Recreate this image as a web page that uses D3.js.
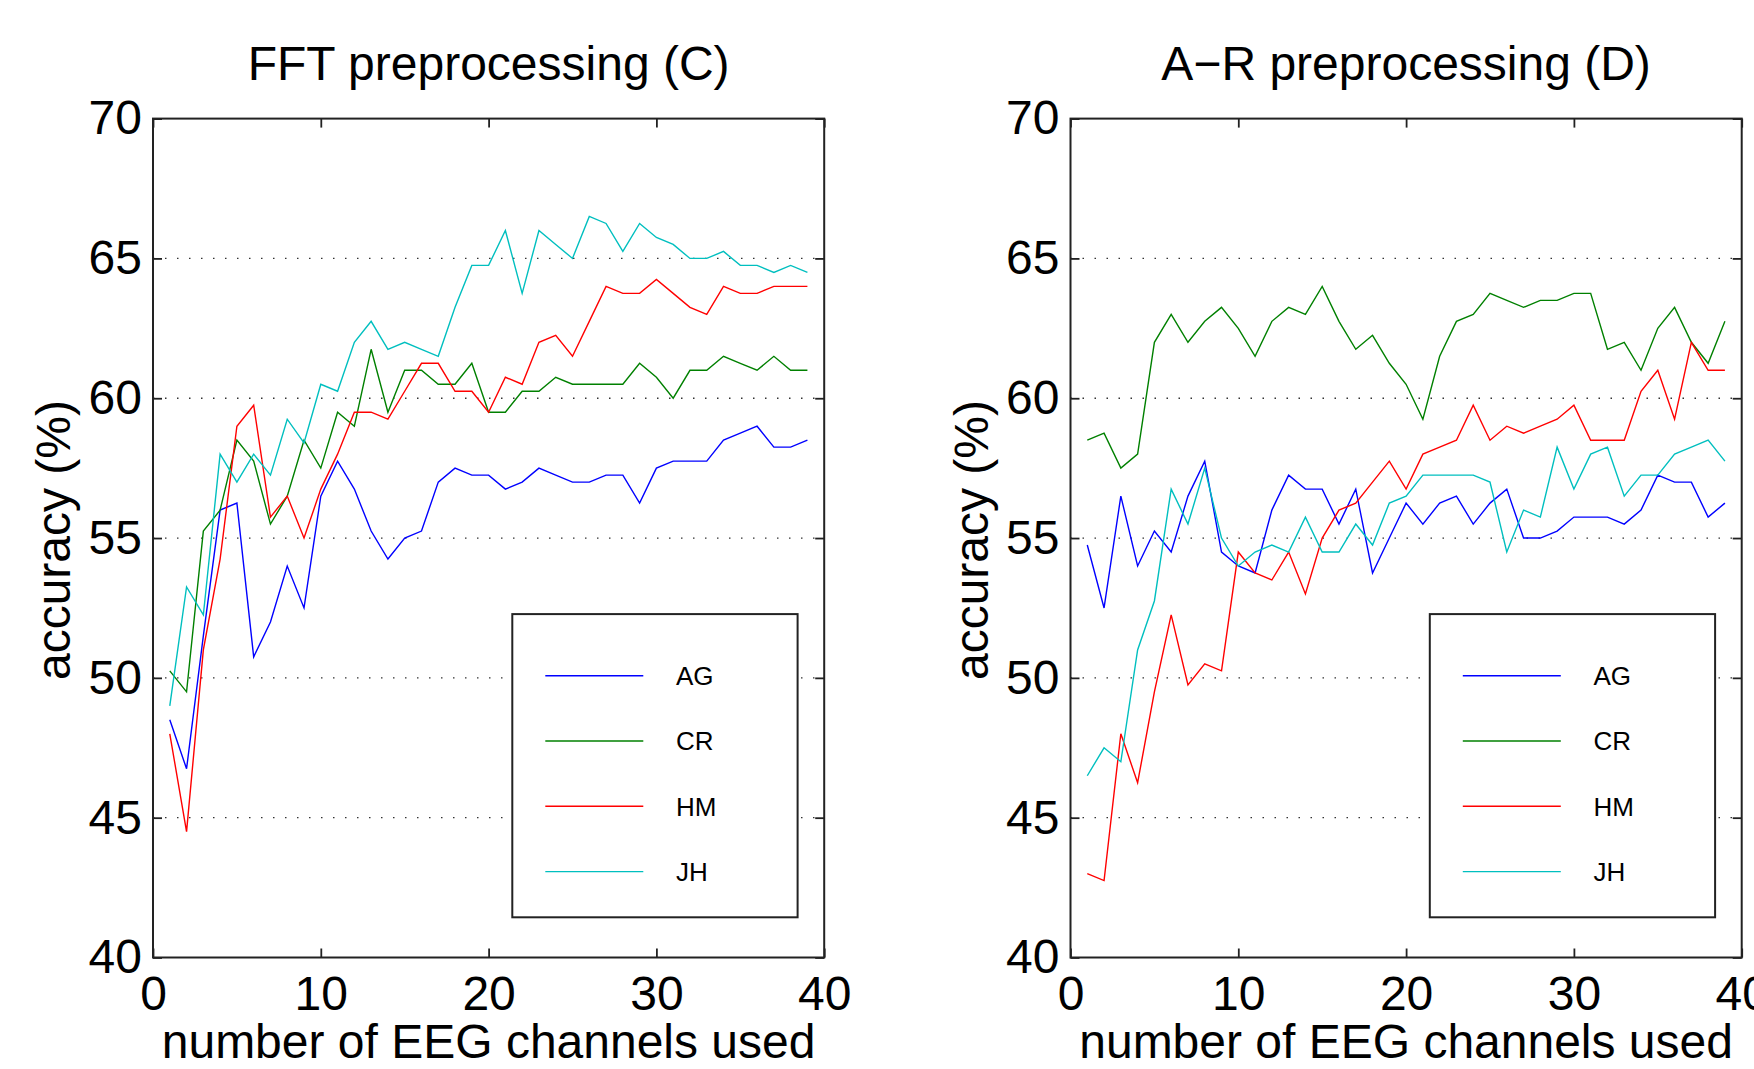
<!DOCTYPE html>
<html>
<head>
<meta charset="utf-8">
<script src="https://cdn.jsdelivr.net/npm/d3@7.9.0/dist/d3.min.js"></script>
<style>
  html, body { margin: 0; padding: 0; background: #fff; }
  svg { display: block; font-family: "Liberation Sans", Arial, Helvetica, sans-serif; }
</style>
</head>
<body>
<svg id="chart" width="1754" height="1069"></svg>
<script>
// number of channels on the x axis
const channels = [1, 2, 3, 4, 5, 6, 7, 8, 9, 10, 11, 12, 13, 14, 15, 16, 17, 18, 19, 20,
  21, 22, 23, 24, 25, 26, 27, 28, 29, 30, 31, 32, 33, 34, 35, 36, 37, 38, 39];

const subjects = ['AG', 'CR', 'HM', 'JH'];
const titles = ['FFT preprocessing (C)', 'A\u2212R preprocessing (D)'];
const xTicks = [0, 10, 20, 30, 40];
const yTicks = [40, 45, 50, 55, 60, 65, 70];
const gridValues = [45, 50, 55, 60, 65];

// FFT preprocessing (C)
const fftAG = [48.5, 46.75, 51.5, 56, 56.25, 50.75, 52, 54, 52.5, 56.5,
  57.75, 56.75, 55.25, 54.25, 55, 55.25, 57, 57.5, 57.25, 57.25,
  56.75, 57, 57.5, 57.25, 57, 57, 57.25, 57.25, 56.25, 57.5,
  57.75, 57.75, 57.75, 58.5, 58.75, 59, 58.25, 58.25, 58.5];
const fftCR = [50.25, 49.5, 55.25, 56, 58.5, 57.75, 55.5, 56.5, 58.5, 57.5,
  59.5, 59, 61.75, 59.5, 61, 61, 60.5, 60.5, 61.25, 59.5,
  59.5, 60.25, 60.25, 60.75, 60.5, 60.5, 60.5, 60.5, 61.25, 60.75,
  60, 61, 61, 61.5, 61.25, 61, 61.5, 61, 61];
const fftHM = [48, 44.5, 51, 54.25, 59, 59.75, 55.75, 56.5, 55, 56.75,
  58, 59.5, 59.5, 59.25, 60.25, 61.25, 61.25, 60.25, 60.25, 59.5,
  60.75, 60.5, 62, 62.25, 61.5, 62.75, 64, 63.75, 63.75, 64.25,
  63.75, 63.25, 63, 64, 63.75, 63.75, 64, 64, 64];
const fftJH = [49, 53.25, 52.25, 58, 57, 58, 57.25, 59.25, 58.4, 60.5,
  60.25, 62, 62.75, 61.75, 62, 61.75, 61.5, 63.25, 64.75, 64.75,
  66, 63.75, 66, 65.5, 65, 66.5, 66.25, 65.25, 66.25, 65.75,
  65.5, 65, 65, 65.25, 64.75, 64.75, 64.5, 64.75, 64.5];

// A-R preprocessing (D)
const arAG = [54.75, 52.5, 56.5, 54, 55.25, 54.5, 56.5, 57.75, 54.5, 54,
  53.75, 56, 57.25, 56.75, 56.75, 55.5, 56.75, 53.75, 55, 56.25,
  55.5, 56.25, 56.5, 55.5, 56.25, 56.75, 55, 55, 55.25, 55.75,
  55.75, 55.75, 55.5, 56, 57.25, 57, 57, 55.75, 56.25];
const arCR = [58.5, 58.75, 57.5, 58, 62, 63, 62, 62.75, 63.25, 62.5,
  61.5, 62.75, 63.25, 63, 64, 62.75, 61.75, 62.25, 61.25, 60.5,
  59.25, 61.5, 62.75, 63, 63.75, 63.5, 63.25, 63.5, 63.5, 63.75,
  63.75, 61.75, 62, 61, 62.5, 63.25, 62, 61.25, 62.75];
const arHM = [43, 42.75, 48, 46.25, 49.5, 52.25, 49.75, 50.5, 50.25, 54.5,
  53.75, 53.5, 54.5, 53, 55, 56, 56.25, 57, 57.75, 56.75,
  58, 58.25, 58.5, 59.75, 58.5, 59, 58.75, 59, 59.25, 59.75,
  58.5, 58.5, 58.5, 60.25, 61, 59.25, 62, 61, 61];
const arJH = [46.5, 47.5, 47, 51, 52.75, 56.75, 55.5, 57.5, 55, 54,
  54.5, 54.75, 54.5, 55.75, 54.5, 54.5, 55.5, 54.75, 56.25, 56.5,
  57.25, 57.25, 57.25, 57.25, 57, 54.5, 56, 55.75, 58.25, 56.75,
  58, 58.25, 56.5, 57.25, 57.25, 58, 58.25, 58.5, 57.75];

const colors = ['#0000ff', '#008000', '#ff0000', '#00bfbf'];

const panelData = [
  [fftAG, fftCR, fftHM, fftJH],
  [arAG, arCR, arHM, arJH]
];

const svg = d3.select('#chart');
svg.append('rect').attr('width', 1754).attr('height', 1069).attr('fill', '#fff');

const plotTop = 118.6, plotBottom = 957.5;
const lefts = [153, 1070.5];
const plotWidth = 671.2;

panelData.forEach((series, p) => {
  const left = lefts[p];
  const x = d3.scaleLinear().domain([0, 40]).range([left, left + plotWidth]);
  const y = d3.scaleLinear().domain([40, 70]).range([plotBottom, plotTop]);
  const g = svg.append('g');

  // dotted grid
  g.selectAll('.grid')
    .data(gridValues)
    .join('line')
    .attr('x1', left).attr('x2', left + plotWidth)
    .attr('y1', d => y(d)).attr('y2', d => y(d))
    .attr('stroke', '#333')
    .attr('stroke-width', 1.3)
    .attr('stroke-dasharray', '1.5,10.5');

  // axes with inward ticks
  const axB = g.append('g').attr('transform', `translate(0,${plotBottom})`)
    .call(d3.axisBottom(x).tickValues(xTicks).tickSize(-9).tickPadding(18.5));
  const axT = g.append('g').attr('transform', `translate(0,${plotTop})`)
    .call(d3.axisTop(x).tickValues(xTicks).tickSize(-9).tickFormat(''));
  const axL = g.append('g').attr('transform', `translate(${left},0)`)
    .call(d3.axisLeft(y).tickValues(yTicks).tickSize(-9).tickPadding(11));
  const axR = g.append('g').attr('transform', `translate(${left + plotWidth},0)`)
    .call(d3.axisRight(y).tickValues(yTicks).tickSize(-9).tickFormat(''));

  [axB, axT, axL, axR].forEach(a => {
    a.select('.domain').remove();
    a.selectAll('.tick line').attr('stroke', '#222').attr('stroke-width', 1.8);
    a.selectAll('text')
      .attr('fill', '#000')
      .style('font-size', '48px')
      .style('font-family', '"Liberation Sans", Arial, sans-serif');
  });

  // data lines
  const line = d3.line()
    .x((d, i) => x(channels[i]))
    .y(d => y(d));

  series.forEach((vals, s) => {
    g.append('path')
      .datum(vals)
      .attr('d', line)
      .attr('fill', 'none')
      .attr('stroke', colors[s])
      .attr('stroke-width', 1.4)
      .attr('stroke-linejoin', 'miter');
  });

  // frame
  g.append('rect')
    .attr('x', left).attr('y', plotTop)
    .attr('width', plotWidth).attr('height', plotBottom - plotTop)
    .attr('fill', 'none')
    .attr('stroke', '#222')
    .attr('stroke-width', 2);

  // legend
  const bx = left + 359.3, by = 614.1;
  const legend = g.append('g');
  legend.append('rect')
    .attr('x', bx).attr('y', by)
    .attr('width', 285.3).attr('height', 303.2)
    .attr('fill', '#fff')
    .attr('stroke', '#222')
    .attr('stroke-width', 2);
  subjects.forEach((name, s) => {
    const ry = 675.7 + s * 65.3;
    legend.append('line')
      .attr('x1', bx + 33).attr('x2', bx + 131)
      .attr('y1', ry).attr('y2', ry)
      .attr('stroke', colors[s])
      .attr('stroke-width', 1.4);
    legend.append('text')
      .attr('x', bx + 163.7).attr('y', ry + 9.3)
      .style('font-size', '26px')
      .text(name);
  });

  // title and labels
  g.append('text')
    .attr('x', left + plotWidth / 2).attr('y', 80)
    .attr('text-anchor', 'middle')
    .style('font-size', '48px')
    .text(titles[p]);

  g.append('text')
    .attr('x', left + plotWidth / 2).attr('y', 1058)
    .attr('text-anchor', 'middle')
    .style('font-size', '48px')
    .text('number of EEG channels used');

  g.append('text')
    .attr('transform', `translate(${left - 83},540) rotate(-90)`)
    .attr('text-anchor', 'middle')
    .style('font-size', '48px')
    .text('accuracy (%)');
});
</script>
</body>
</html>
